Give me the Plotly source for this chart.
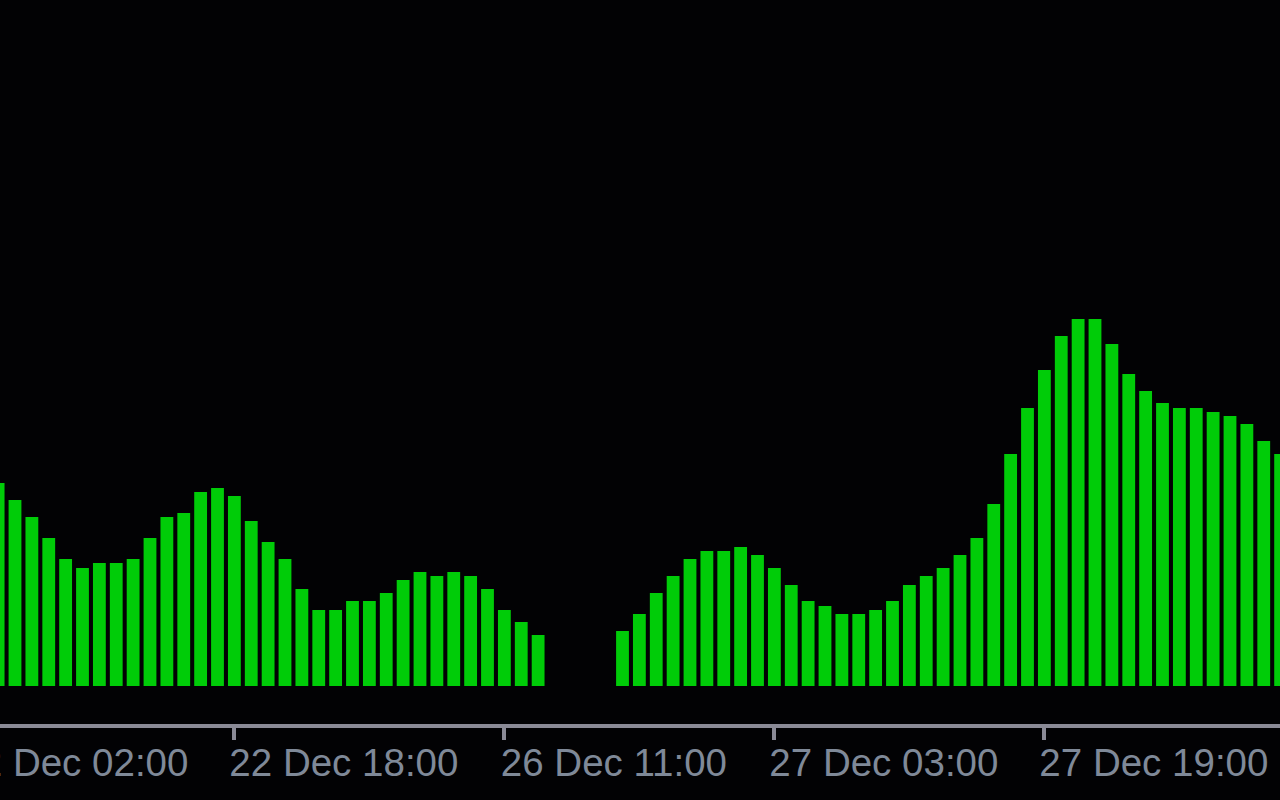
import plotly.graph_objects as go

# Bar values (hourly); None = no value (gap)
values = [
    203, 186, 169, 148, 127, 118, 123, 123, 127, 148,
    169, 173, 194, 198, 190, 165, 144, 127, 97, 76,
    76, 85, 85, 93, 106, 114, 110, 114, 110, 97,
    76, 64, 51, None, None, None, None, 55, 72, 93,
    110, 127, 135, 135, 139, 131, 118, 101, 85, 80,
    72, 72, 76, 85, 101, 110, 118, 131, 148, 182,
    232, 278, 316, 350, 367, 367, 342, 312, 295, 283,
    278, 278, 274, 270, 262, 245, 232,
]
bar_index = list(range(len(values)))

# Time-axis ticks (bar index of each tick) and their labels
tick_index = [-2, 14, 30, 46, 62]
tick_labels = ["22 Dec 02:00", "22 Dec 18:00", "26 Dec 11:00", "27 Dec 03:00", "27 Dec 19:00"]

label_offset = 6.49  # labels start at the tick and run to the right
label_pos = [t + label_offset for t in tick_index]
x_range = [0.111, 75.963]
axis_color = "#8a8a96"
text_color = "#7f8998"

fig = go.Figure()
fig.add_trace(go.Bar(
    x=bar_index, y=values, width=0.76,
    marker=dict(color="#00cc08", line=dict(width=0)),
    hoverinfo="x+y", showlegend=False,
))
# carrier trace for the label axis (draws nothing)
fig.add_trace(go.Scatter(
    x=label_pos, y=[None] * len(label_pos), xaxis="x2", yaxis="y",
    mode="markers", hoverinfo="skip", showlegend=False,
))

fig.update_layout(
    width=1280, height=800,
    margin=dict(l=0, r=0, t=0, b=76, autoexpand=False),
    paper_bgcolor="#020204", plot_bgcolor="#020204",
    font=dict(family="Liberation Sans, Arial, sans-serif", color=text_color),
    xaxis=dict(
        range=x_range, showgrid=False, zeroline=False,
        showline=True, linecolor=axis_color, linewidth=4,
        ticks="outside", ticklen=12, tickwidth=3.5, tickcolor=axis_color,
        tickvals=tick_index, showticklabels=False, fixedrange=True,
        automargin=False,
    ),
    xaxis2=dict(
        range=x_range, overlaying="x", anchor="y", side="bottom",
        showgrid=False, zeroline=False, showline=False, ticks="",
        tickmode="array", tickvals=label_pos, ticktext=tick_labels,
        showticklabels=True, ticklabeloverflow="allow", automargin=False,
        tickfont=dict(size=38.5, color=text_color), ticklabelstandoff=12,
        fixedrange=True,
    ),
    yaxis=dict(range=[-38, 686], visible=False, fixedrange=True, automargin=False),
)

fig.write_html(
    "out.html",
    config={"displayModeBar": False},
    post_script="document.body.style.margin='0';document.body.style.overflow='hidden';",
)
